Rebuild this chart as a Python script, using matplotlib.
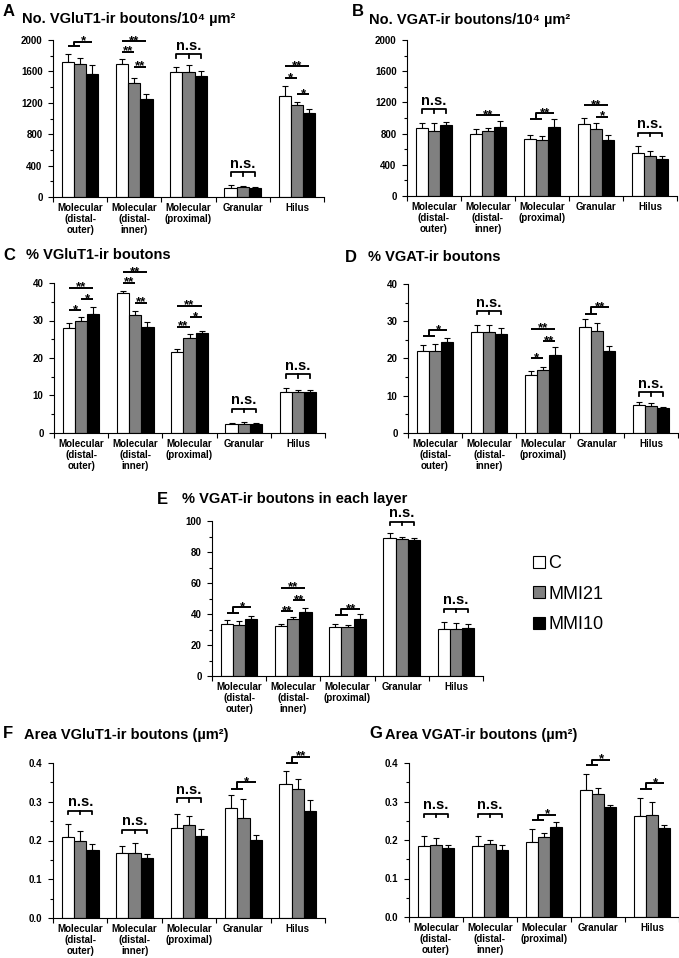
import matplotlib
matplotlib.use("Agg")
import numpy as np
import matplotlib.pyplot as plt
from matplotlib.patches import Patch
from matplotlib.ticker import MultipleLocator, FormatStrFormatter

plt.rcParams['font.family'] = ['Liberation Sans', 'DejaVu Sans']
plt.rcParams['font.weight'] = 'bold'

layers = ["Molecular\n(distal-\nouter)", "Molecular\n(distal-\ninner)",
          "Molecular\n(proximal)", "Granular", "Hilus"]
groups = ["C", "MMI21", "MMI10"]
colors = ["white", "#808080", "black"]

# A: No. VGluT1-ir boutons
a_c = [1724, 1694, 1588, 119, 1287]
a_m21 = [1690, 1452, 1588, 123, 1168]
a_m10 = [1571, 1253, 1537, 115, 1066]
a_c_err = [93, 60, 64, 30, 131]
a_m21_err = [85, 60, 93, 17, 46]
a_m10_err = [110, 55, 72, 12, 59]

# B: No. VGAT-ir boutons
b_c = [866, 789, 728, 917, 557]
b_m21 = [835, 827, 716, 853, 510]
b_m10 = [904, 883, 887, 720, 480]
b_c_err = [72, 68, 48, 77, 90]
b_m21_err = [100, 47, 47, 81, 73]
b_m10_err = [40, 81, 94, 56, 39]

# C: % VGluT1-ir boutons
c_c = [28.0, 37.3, 21.6, 2.3, 11.0]
c_m21 = [30.0, 31.4, 25.2, 2.5, 11.0]
c_m10 = [31.8, 28.3, 26.7, 2.4, 11.0]
c_c_err = [1.4, 0.7, 0.7, 0.4, 1.0]
c_m21_err = [1.0, 1.2, 1.1, 0.3, 0.5]
c_m10_err = [1.8, 1.4, 0.6, 0.3, 0.4]

# D: % VGAT-ir boutons
d_c = [21.9, 27.1, 15.5, 28.4, 7.4]
d_m21 = [21.9, 27.0, 17.0, 27.3, 7.2]
d_m10 = [24.3, 26.7, 20.9, 21.9, 6.6]
d_c_err = [1.8, 1.9, 1.1, 2.3, 1.0]
d_m21_err = [1.9, 2.0, 0.7, 2.1, 0.9]
d_m10_err = [1.1, 1.4, 2.2, 1.4, 0.3]

# E: % VGAT-ir boutons in each layer
e_c = [33.3, 32.0, 31.6, 89.3, 30.3]
e_m21 = [33.1, 36.6, 31.4, 88.2, 30.1]
e_m10 = [36.8, 41.5, 36.8, 87.8, 31.2]
e_c_err = [2.6, 1.3, 1.7, 3.0, 4.5]
e_m21_err = [2.2, 1.5, 1.5, 1.7, 4.1]
e_m10_err = [1.9, 2.6, 3.4, 1.5, 2.6]

# F: Area VGluT1-ir boutons
f_c = [0.208, 0.168, 0.231, 0.283, 0.345]
f_m21 = [0.198, 0.169, 0.239, 0.257, 0.333]
f_m10 = [0.175, 0.154, 0.212, 0.201, 0.275]
f_c_err = [0.034, 0.019, 0.038, 0.034, 0.035]
f_m21_err = [0.027, 0.024, 0.023, 0.049, 0.027]
f_m10_err = [0.015, 0.011, 0.017, 0.012, 0.029]

# G: Area VGAT-ir boutons
g_c = [0.185, 0.185, 0.194, 0.330, 0.262]
g_m21 = [0.186, 0.189, 0.208, 0.320, 0.264]
g_m10 = [0.178, 0.175, 0.234, 0.286, 0.230]
g_c_err = [0.026, 0.026, 0.034, 0.042, 0.046]
g_m21_err = [0.018, 0.012, 0.010, 0.016, 0.036]
g_m10_err = [0.008, 0.012, 0.012, 0.005, 0.010]

# significance marks: ('line', layer, bar_i, bar_j, y, text), ('ns', layer, y),
# ('step', layer, y_low, y_high, text)
a_sig = [('step', 0, 1924, 1979, '*'),
         ('line', 1, 0, 2, 1987, '**'), ('line', 1, 0, 1, 1851, '**'), ('line', 1, 1, 2, 1660, '**'),
         ('ns', 2, 1817), ('ns', 3, 314),
         ('line', 4, 0, 2, 1669, '**'), ('line', 4, 0, 1, 1512, '*'), ('line', 4, 1, 2, 1312, '*')]
b_sig = [('ns', 0, 1113), ('line', 1, 0, 2, 1033, '**'), ('step', 2, 985, 1059, '**'),
         ('line', 3, 0, 2, 1165, '**'), ('line', 3, 1, 2, 1015, '*'), ('ns', 4, 814)]
c_sig = [('line', 0, 0, 2, 38.7, '**'), ('line', 0, 1, 2, 35.7, '*'), ('line', 0, 0, 1, 32.8, '*'),
         ('line', 1, 0, 2, 42.9, '**'), ('line', 1, 0, 1, 40.1, '**'), ('line', 1, 1, 2, 34.7, '**'),
         ('line', 2, 0, 2, 34.0, '**'), ('line', 2, 1, 2, 30.9, '*'), ('line', 2, 0, 1, 28.3, '**'),
         ('ns', 3, 6.5), ('ns', 4, 15.6)]
d_sig = [('step', 0, 26.0, 27.6, '*'), ('ns', 1, 32.7),
         ('line', 2, 0, 2, 28.0, '**'), ('line', 2, 1, 2, 24.6, '**'), ('line', 2, 0, 1, 20.1, '*'),
         ('step', 3, 32.0, 33.7, '**'), ('ns', 4, 10.9)]
e_sig = [('step', 0, 40.7, 44.5, '*'),
         ('line', 1, 0, 2, 57.0, '**'), ('line', 1, 1, 2, 48.8, '**'), ('line', 1, 0, 1, 41.9, '**'),
         ('step', 2, 39.1, 43.0, '**'), ('ns', 3, 99.4), ('ns', 4, 43.5)]
f_sig = [('ns', 0, 0.276), ('ns', 1, 0.227), ('ns', 2, 0.309),
         ('step', 3, 0.334, 0.351, '*'), ('step', 4, 0.400, 0.416, '**')]
g_sig = [('ns', 0, 0.268), ('ns', 1, 0.268), ('step', 2, 0.251, 0.266, '*'),
         ('step', 3, 0.394, 0.409, '*'), ('step', 4, 0.333, 0.348, '*')]

W, H = 679, 958
fig = plt.figure(figsize=(W / 100, H / 100), dpi=100)
w = 0.225
x = np.arange(len(layers))


def star(ax, xc, y, t):
    ax.annotate(t, (xc, y), xytext=(0, -2), textcoords='offset points', ha='center',
                va='baseline', fontsize=9.5, fontweight='bold', annotation_clip=False)


def panel(box, letter, title, means, errs, ymax, major, fmt, sig, letter_pos, title_pos):
    left, top, right, bottom = box
    ax = fig.add_axes([left / W, 1 - bottom / H, (right - left) / W, (bottom - top) / H])
    for k in range(3):
        ax.bar(x + (k - 1) * w, means[k], w, color=colors[k], edgecolor='black', linewidth=0.8, zorder=2)
        ax.errorbar(x + (k - 1) * w, means[k], yerr=[np.zeros(5), errs[k]], fmt='none',
                    ecolor='black', elinewidth=0.8, capsize=2, capthick=0.8, zorder=1)
    ax.set_xlim(-0.5, 4.5)
    ax.set_ylim(0, ymax)
    ax.spines['top'].set_visible(False)
    ax.spines['right'].set_visible(False)
    ax.yaxis.set_major_locator(MultipleLocator(major))
    ax.yaxis.set_minor_locator(MultipleLocator(major / 2))
    ax.yaxis.set_major_formatter(FormatStrFormatter(fmt))
    ax.tick_params(axis='y', which='major', length=3.5, width=0.8, pad=4, labelsize=7)
    ax.tick_params(axis='y', which='minor', length=2, width=0.8)
    ax.set_xticks(x)
    ax.set_xticklabels(layers, fontsize=7, linespacing=1.15)
    ax.set_xticks(np.arange(-0.5, 5.0, 1.0), minor=True)
    ax.tick_params(axis='x', which='major', length=0, pad=4)
    ax.tick_params(axis='x', which='minor', length=3.5, width=0.8)

    tick = ymax * 0.022
    for s in sig:
        if s[0] == 'line':
            _, g, i, j, y, t = s
            x1, x2 = g + (i - 1) * w, g + (j - 1) * w
            ax.plot([x1, x2], [y, y], color='black', lw=1.4, clip_on=False, solid_capstyle='butt')
            star(ax, (x1 + x2) / 2, y, t)
        elif s[0] == 'ns':
            _, g, y = s
            ax.plot([g - w, g - w, g + w, g + w], [y - tick, y, y, y - tick], color='black',
                    lw=1.3, clip_on=False)
            ax.plot([g, g], [y, y - tick], color='black', lw=1.3, clip_on=False)
            ax.annotate('n.s.', (g, y), xytext=(0, 1.2), textcoords='offset points', ha='center',
                        va='bottom', fontsize=10.5, fontweight='bold', annotation_clip=False)
        else:
            _, g, y1, y2, t = s
            xm = g - w / 2
            ax.plot([g - w, g], [y1, y1], color='black', lw=1.4, clip_on=False, solid_capstyle='butt')
            ax.plot([xm, xm, g + w], [y1, y2, y2], color='black', lw=1.4, clip_on=False,
                    solid_capstyle='butt')
            star(ax, (xm + g + w) / 2, y2, t)

    fig.text(letter_pos[0] / W, 1 - letter_pos[1] / H, letter, fontsize=12, fontweight='bold',
             va='center', ha='left')
    fig.text(title_pos[0] / W, 1 - title_pos[1] / H, title, fontsize=10.5, fontweight='bold',
             va='center', ha='left')
    return ax


panel((53, 40, 324, 197), 'A', 'No. VGluT1-ir boutons/10⁴ µm²',
      [a_c, a_m21, a_m10], [a_c_err, a_m21_err, a_m10_err], 2000, 400, '%d', a_sig, (3, 12), (22, 19))
panel((407, 40, 677, 196), 'B', 'No. VGAT-ir boutons/10⁴ µm²',
      [b_c, b_m21, b_m10], [b_c_err, b_m21_err, b_m10_err], 2000, 400, '%d', b_sig, (352, 12), (369, 20))
panel((54, 283, 325, 433), 'C', '% VGluT1-ir boutons',
      [c_c, c_m21, c_m10], [c_c_err, c_m21_err, c_m10_err], 40, 10, '%d', c_sig, (3, 255), (26, 255))
panel((408, 284, 678, 433), 'D', '% VGAT-ir boutons',
      [d_c, d_m21, d_m10], [d_c_err, d_m21_err, d_m10_err], 40, 10, '%d', d_sig, (345, 257), (368, 257))
panel((212, 521, 483, 676), 'E', '% VGAT-ir boutons in each layer',
      [e_c, e_m21, e_m10], [e_c_err, e_m21_err, e_m10_err], 100, 20, '%d', e_sig, (157, 499), (182, 499))
panel((53, 763, 325, 918), 'F', 'Area VGluT1-ir boutons (µm²)',
      [f_c, f_m21, f_m10], [f_c_err, f_m21_err, f_m10_err], 0.4, 0.1, '%.1f', f_sig, (3, 734), (24, 735))
panel((409, 763, 679, 917), 'G', 'Area VGAT-ir boutons (µm²)',
      [g_c, g_m21, g_m10], [g_c_err, g_m21_err, g_m10_err], 0.4, 0.1, '%.1f', g_sig, (369, 734), (385, 735))

handles = [Patch(facecolor=c, edgecolor='black', linewidth=0.8, label=g) for c, g in zip(colors, groups)]
fig.legend(handles=handles, loc='upper left', bbox_to_anchor=(524 / W, 1 - 546 / H), frameon=False,
           prop={'size': 13, 'weight': 'normal'}, handlelength=0.65, handleheight=0.65,
           handletextpad=0.2, labelspacing=0.75, borderpad=0)

fig.savefig('out.png', dpi=100)
